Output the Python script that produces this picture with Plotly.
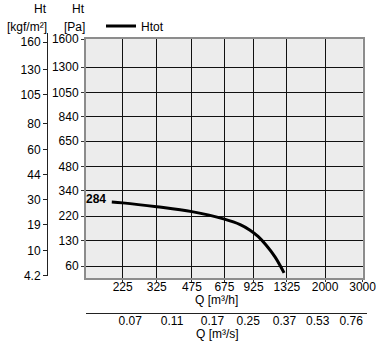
import numpy as np
import plotly.graph_objects as go

# ---- data ----
q_m3h = [200, 225, 325, 475, 675, 800, 890, 970, 1055, 1165, 1285]
h_pa = [284, 280, 262, 240, 208, 186, 165, 143, 116, 82, 46]

q_ticks = [225, 325, 475, 675, 925, 1325, 2000, 3000]
qs_ticks = [0.07, 0.11, 0.17, 0.25, 0.37, 0.53, 0.76]
pa_ticks = [60, 130, 220, 340, 480, 650, 840, 1050, 1300, 1600]
kgf_ticks = [4.2, 10, 19, 30, 44, 60, 80, 105, 130, 160]

G = 9.81
FONT = "Liberation Sans, Arial, sans-serif"

# sqrt scale for pressure
y_vals = [np.sqrt(v) for v in h_pa]

W, H = 376, 344
L, R, T, B = 47, 9, 33, 31
PW = W - L - R
PH = H - T - B


def px_x(px):
    return (px - L) / PW


def px_y(py):
    return (H - B - py) / PH


fig = go.Figure()
fig.add_trace(go.Scatter(
    x=q_m3h, y=y_vals, mode="lines", name="Htot",
    line=dict(color="black", width=3, shape="spline", smoothing=1.0),
    xaxis="x", yaxis="y", hoverinfo="skip",
))
# dummy trace so secondary axes render
fig.add_trace(go.Scatter(x=[None], y=[None], xaxis="x2", yaxis="y2",
                         showlegend=False, hoverinfo="skip"))

x_left, x_right = 2.1801, 3.4776
y_bot, y_top = 6.05, 40.04

fig.update_layout(
    width=W, height=H,
    margin=dict(l=L, r=R, t=T, b=B, autoexpand=False),
    paper_bgcolor="white",
    plot_bgcolor="rgba(0,0,0,0)",
    font=dict(family=FONT, size=12, color="black"),
    showlegend=True,
    legend=dict(x=px_x(101), y=px_y(26), xanchor="left", yanchor="middle",
                bgcolor="rgba(0,0,0,0)", font=dict(size=12)),
    xaxis=dict(
        type="log", range=[x_left, x_right], domain=[px_x(86), px_x(362.7)],
        tickvals=q_ticks, ticktext=[str(v) for v in q_ticks],
        showgrid=True, gridcolor="#111", gridwidth=1,
        showline=True, linecolor="#8c8c8c", linewidth=2, mirror=True,
        ticks="outside", ticklen=2, tickcolor="#333",
        ticklabelstandoff=-5, ticklabeloverflow="allow", automargin=False,
        zeroline=False, anchor="y",
    ),
    yaxis=dict(
        range=[y_bot, y_top], domain=[px_y(278), px_y(39)],
        tickvals=[np.sqrt(v) for v in pa_ticks],
        ticktext=[str(v) for v in pa_ticks],
        showgrid=True, gridcolor="#111", gridwidth=1,
        showline=True, linecolor="#8c8c8c", linewidth=2, mirror=True,
        ticks="outside", ticklen=3, tickcolor="#333", automargin=False,
        zeroline=False, anchor="x",
    ),
    xaxis2=dict(
        type="log", range=[-1.3622, -0.0448], domain=[px_x(86), 1.0],
        tickvals=qs_ticks, ticktext=[f"{v:.2f}" for v in qs_ticks],
        showgrid=False, showline=True, linecolor="#222", linewidth=1,
        ticks="", ticklabelstandoff=-3, ticklabeloverflow="allow",
        automargin=False,
        zeroline=False, anchor="free", position=0.0,
    ),
    yaxis2=dict(
        range=[6.33, 40.9], domain=[px_y(276), 1.0],
        tickvals=[np.sqrt(v * G) for v in kgf_ticks],
        ticktext=[str(v) for v in kgf_ticks],
        showgrid=False, showline=True, linecolor="#222", linewidth=1,
        ticks="outside", ticklen=4, tickcolor="#222", automargin=False,
        zeroline=False, anchor="free", position=0.0, side="left",
    ),
    shapes=[dict(type="rect", xref="x domain", yref="y domain",
                 x0=0, x1=1, y0=0, y1=1, fillcolor="#ececec",
                 line=dict(width=0), layer="below")],
)

ann = [
    dict(text="Ht", x=px_x(48.5), y=px_y(18.5), xanchor="right", yanchor="bottom"),
    dict(text="[kgf/m²]", x=px_x(48.5), y=px_y(18.5), xanchor="right", yanchor="top"),
    dict(text="Ht", x=px_x(86.5), y=px_y(18.5), xanchor="right", yanchor="bottom"),
    dict(text="[Pa]", x=px_x(86.5), y=px_y(18.5), xanchor="right", yanchor="top"),
    dict(text="Q [m³/h]", x=px_x(216), y=px_y(299.5), xanchor="center", yanchor="middle"),
    dict(text="Q [m³/s]", x=px_x(217), y=px_y(334), xanchor="center", yanchor="middle"),
]
for a in ann:
    fig.add_annotation(xref="paper", yref="paper", showarrow=False,
                       font=dict(size=12, family=FONT), **a)

fig.add_annotation(xref="x", yref="y", x=np.log10(q_m3h[0]), y=y_vals[0],
                   text="<b>284</b>", showarrow=False, xanchor="right",
                   yanchor="middle", xshift=-4, yshift=3,
                   font=dict(size=12, family=FONT))

fig.write_html("out.html")
